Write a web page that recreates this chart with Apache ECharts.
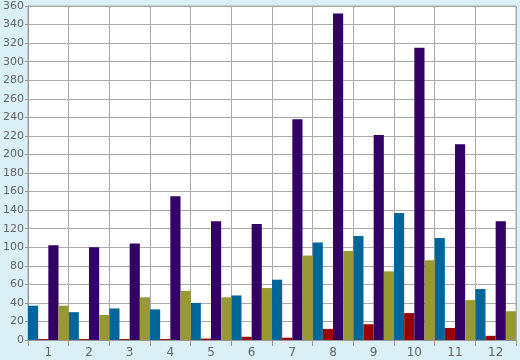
<!DOCTYPE html>
<html><head><meta charset="utf-8">
<script src="https://cdn.jsdelivr.net/npm/echarts@6/dist/echarts.min.js"></script>
<style>html,body{margin:0;padding:0;background:#daeff6;}#c{width:520px;height:360px;}</style>
</head><body><div id="c"></div>
<script>
var categories = ['1','2','3','4','5','6','7','8','9','10','11','12'];
var seriesBlue   = [37, 30, 34, 33, 40, 48, 65, 105, 112, 137, 110, 55];
var seriesRed    = [1, 1, 1, 1, 1.5, 3.5, 2.5, 12, 17, 29, 13, 4.5];
var seriesPurple = [102, 100, 104, 155, 128, 125, 238, 352, 221, 315, 211, 128];
var seriesOlive  = [37, 27, 46, 53, 46, 56, 91, 96, 74, 86, 43, 31];
var yTicks = {min: 0, max: 360, interval: 20};

var chart = echarts.init(document.getElementById('c'), null, {renderer: 'canvas'});
function bar(data, color) {
  return {type: 'bar', data: data, barGap: '0%', barCategoryGap: '0%',
    itemStyle: {color: color}, animation: false};
}
chart.setOption({
  backgroundColor: '#daeff6',
  animation: false,
  grid: {left: 26, right: 4, top: 6, bottom: 20, show: true,
    backgroundColor: '#ffffff', borderColor: '#aaaaaa', borderWidth: 1},
  xAxis: {
    type: 'category', data: categories, boundaryGap: true,
    axisLine: {lineStyle: {color: '#999999'}},
    axisTick: {show: true, length: 6, lineStyle: {color: '#999999'}},
    axisLabel: {color: '#666666', fontSize: 12, fontFamily: 'DejaVu Sans', margin: 7},
    splitLine: {show: true, lineStyle: {color: '#aaaaaa', width: 1}}
  },
  yAxis: {
    type: 'value', min: yTicks.min, max: yTicks.max, interval: yTicks.interval,
    axisLine: {show: true, lineStyle: {color: '#999999'}},
    axisTick: {show: true, length: 3, lineStyle: {color: '#999999'}},
    axisLabel: {color: '#666666', fontSize: 11, fontFamily: 'DejaVu Sans', margin: 4},
    splitLine: {show: true, lineStyle: {color: '#aaaaaa', width: 1}}
  },
  series: [
    bar(seriesBlue, '#006699'),
    bar(seriesRed, '#990000'),
    bar(seriesPurple, '#330066'),
    bar(seriesOlive, '#999933')
  ]
});
</script></body></html>
